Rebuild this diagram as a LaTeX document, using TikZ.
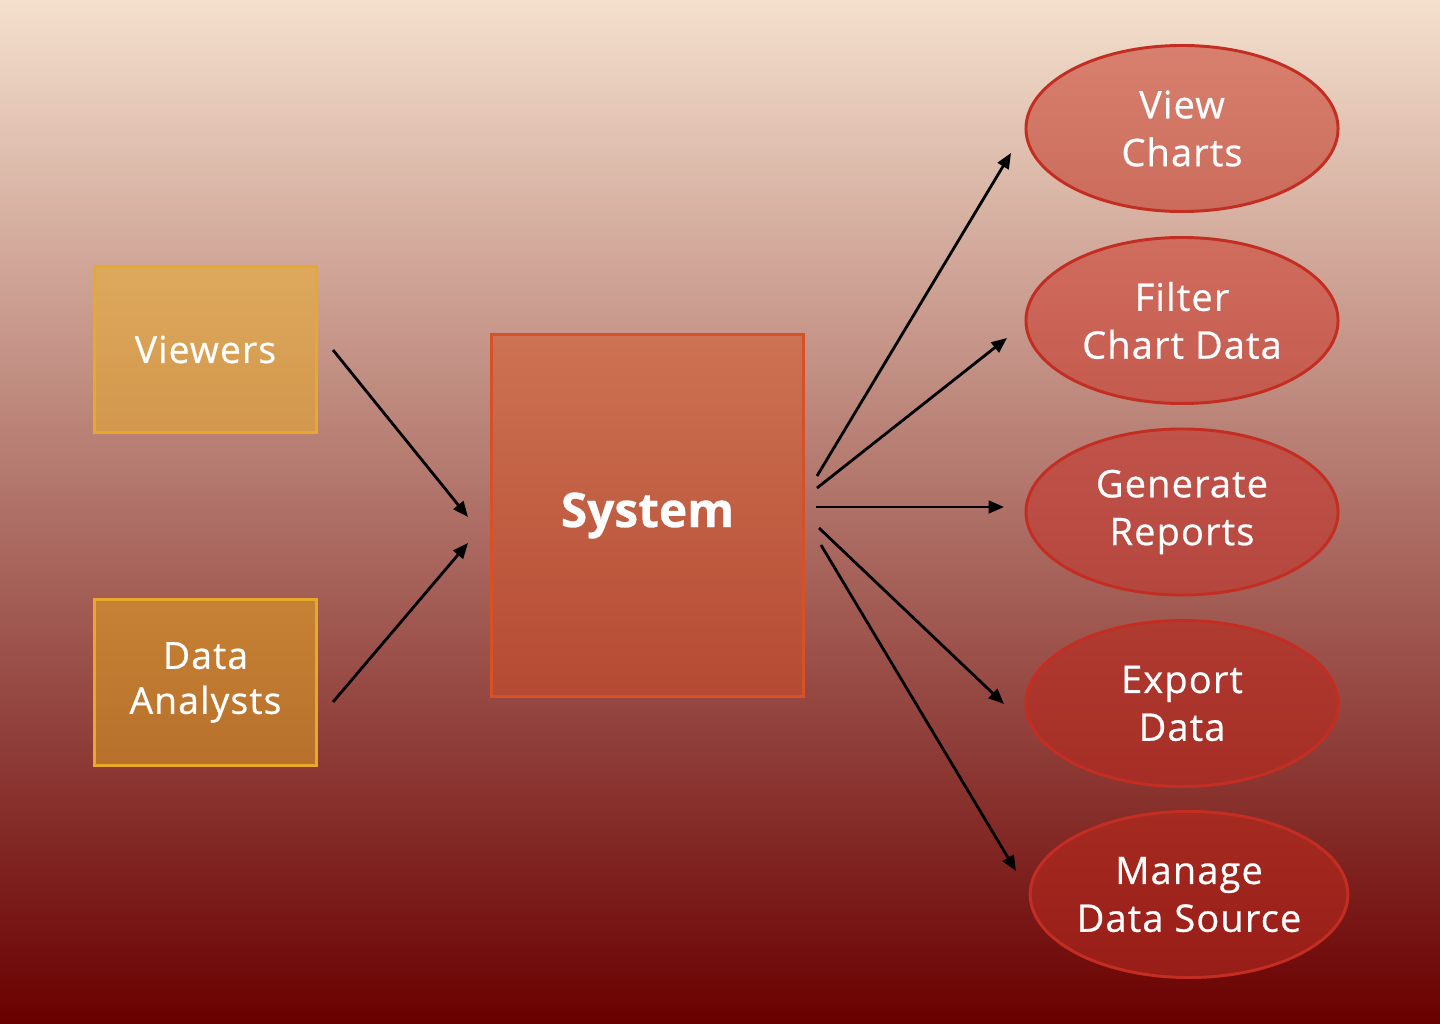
\documentclass[tikz,border=0pt]{standalone}
\usepackage{fontspec}
\setmainfont{Open Sans}[LetterSpace=3,FakeBold=0.6]
\usetikzlibrary{arrows.meta,shapes.geometric}
\definecolor{bgtop}{HTML}{F4E0CD}
\definecolor{bgbot}{HTML}{690000}
\definecolor{goldline}{HTML}{E8A92A}
\definecolor{sysline}{HTML}{D65127}
\definecolor{ovline}{HTML}{C42D22}
\definecolor{sysA}{HTML}{CD7253}
\definecolor{sysB}{HTML}{B54A32}
\tikzset{
  actor/.style={draw=goldline, line width=2.1pt, minimum width=5.55cm, minimum height=4.15cm, inner sep=0pt, align=center, text=white, font=\fontsize{26.5}{32}\selectfont},
  sysbox/.style={draw=sysline, line width=2.1pt, minimum width=7.8cm, minimum height=9.05cm, inner sep=0pt, align=center, text=white, font=\fontsize{34}{40}\selectfont\bfseries\addfontfeature{LetterSpace=0}, top color=sysA, bottom color=sysB},
  usecase/.style={ellipse, draw=ovline, line width=2.1pt, minimum width=7.8cm, minimum height=4.15cm, inner sep=0pt, align=center, text=white, font=\fontsize{27}{34}\selectfont},
  conn/.style={-{Triangle[length=11pt,width=9pt]}, line width=2pt, black},
}
\begin{document}
\begin{tikzpicture}[x=0.025cm,y=-0.025cm]
\useasboundingbox (0,0) rectangle (1440,1024);
\shade[top color=bgtop, bottom color=bgbot] (0,0) rectangle (1440,1024);

\node[actor, top color={rgb,255:red,222;green,169;blue,92}, bottom color={rgb,255:red,210;green,151;blue,76}] (viewers) at (205.5,349.5) {Viewers};
\node[actor, top color={rgb,255:red,198;green,130;blue,53}, bottom color={rgb,255:red,184;green,112;blue,43}] (analysts) at (205.5,682.5) {Data\\Analysts};

\node[sysbox] (system) at (647.5,515.5) {System};

\node[usecase, top color={rgb,255:red,216;green,128;blue,111}, bottom color={rgb,255:red,203;green,107;blue,91}] (view) at (1182,128.5) {View\\Charts};
\node[usecase, top color={rgb,255:red,208;green,109;blue,94}, bottom color={rgb,255:red,196;green,90;blue,78}] (filter) at (1182,320.5) {Filter\\Chart Data};
\node[usecase, top color={rgb,255:red,193;green,84;blue,74}, bottom color={rgb,255:red,180;green,70;blue,62}] (generate) at (1182,512) {Generate\\Reports};
\node[usecase, top color={rgb,255:red,176;green,59;blue,49}, bottom color={rgb,255:red,165;green,45;blue,37}] (export) at (1182,703.5) {Export\\Data};
\node[usecase, top color={rgb,255:red,165;green,42;blue,32}, bottom color={rgb,255:red,152;green,29;blue,24}] (manage) at (1189,894.5) {Manage\\Data Source};

\coordinate (v1) at (333,350);
\coordinate (v2) at (468,517);
\coordinate (a1) at (333,702);
\coordinate (a2) at (468,543);
\coordinate (s1) at (817,476);
\coordinate (e1) at (1011,153);
\coordinate (s2) at (817,488);
\coordinate (e2) at (1007,338);
\coordinate (s3) at (816,507);
\coordinate (e3) at (1004,507);
\coordinate (s4) at (819,528);
\coordinate (e4) at (1004,704);
\coordinate (s5) at (821,545);
\coordinate (e5) at (1016,871);

\draw[conn] (v1) -- (v2);
\draw[conn] (a1) -- (a2);
\draw[conn] (s1) -- (e1);
\draw[conn] (s2) -- (e2);
\draw[conn] (s3) -- (e3);
\draw[conn] (s4) -- (e4);
\draw[conn] (s5) -- (e5);
\end{tikzpicture}
\end{document}
